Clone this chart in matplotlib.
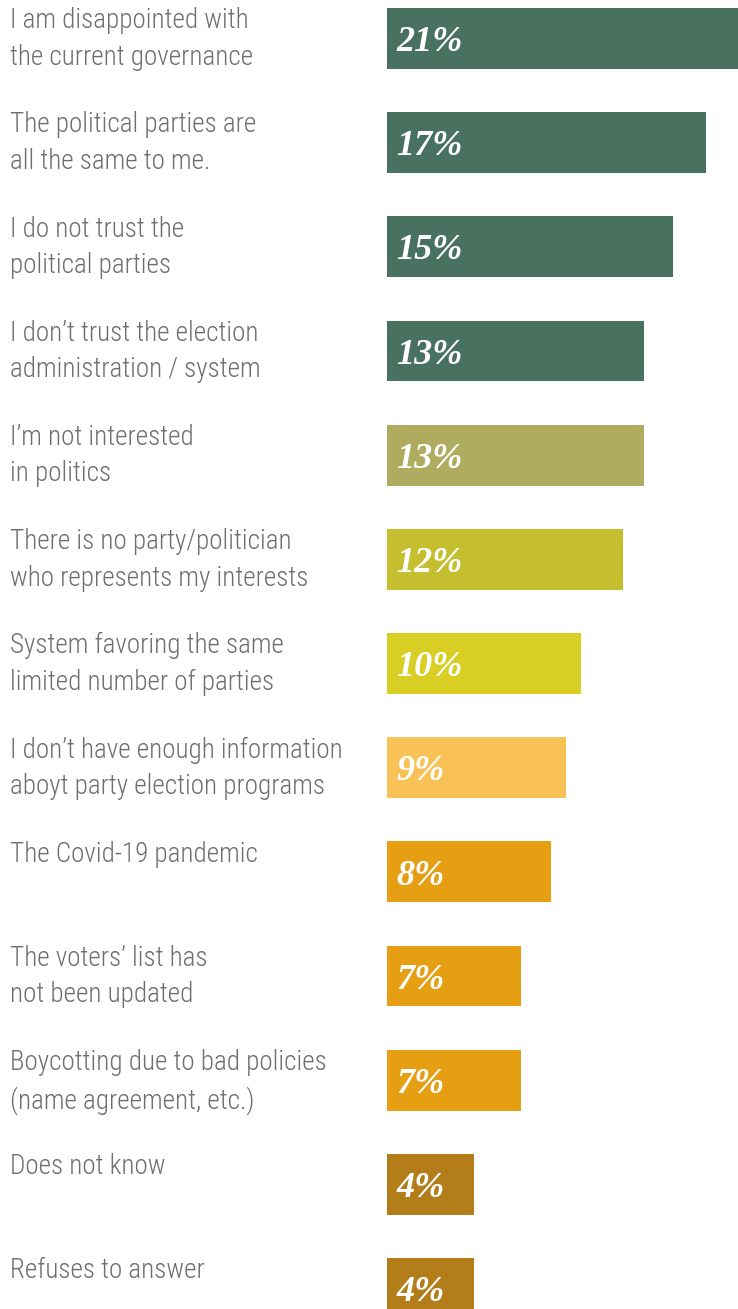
import matplotlib.pyplot as plt
from matplotlib import transforms

# reasons for not voting, top to bottom
reasons = [
    "I am disappointed with\nthe current governance",
    "The political parties are\nall the same to me.",
    "I do not trust the\npolitical parties",
    "I don\u2019t trust the election\nadministration / system",
    "I\u2019m not interested\nin politics",
    "There is no party/politician\nwho represents my interests",
    "System favoring the same\nlimited number of parties",
    "I don\u2019t have enough information\naboyt party election programs",
    "The Covid-19 pandemic",
    "The voters\u2019 list has\nnot been updated",
    "Boycotting due to bad policies\n(name agreement, etc.)",
    "Does not know",
    "Refuses to answer",
]
pct_labels = ["21%", "17%", "15%", "13%", "13%", "12%", "10%",
              "9%", "8%", "7%", "7%", "4%", "4%"]
# bar lengths as drawn in the picture
bar_length = [21.0, 19.1, 17.1, 15.4, 15.4, 14.1, 11.6,
              10.7, 9.8, 8.0, 8.0, 5.2, 5.2]
colors = ["#487160", "#487160", "#487160", "#487160", "#afac5f",
          "#c5bf2f", "#d8ce24", "#f9c256", "#e69f12", "#e69f12",
          "#e69f12", "#b37d1a", "#b37d1a"]

W, H = 738, 1309
fig = plt.figure(figsize=(W / 100, H / 100), dpi=100)
fig.patch.set_facecolor('white')

step = 104.17
ax = fig.add_axes([387 / W, 0, 1 - 387 / W, 1])
pos = list(range(len(reasons)))
ax.barh(pos, bar_length, height=0.585, color=colors)
ax.set_xlim(0, 21.0)
ax.set_ylim(12 + (H - 1288.5) / step, -38.5 / step)
ax.axis('off')

label_fonts = ['Roboto Condensed', 'DejaVu Sans Condensed', 'DejaVu Sans']
trans = transforms.blended_transform_factory(fig.transFigure, ax.transData)
for i, (txt, lab) in enumerate(zip(reasons, pct_labels)):
    ax.text(10 / W, i - 0.30, txt, transform=trans, ha='left', va='top',
            fontsize=19.5, color='#6d6e71', linespacing=1.45,
            family=label_fonts, fontweight='light', fontstretch='condensed')
    ax.text(0.55, i + 0.04, lab, ha='left', va='center', fontsize=26,
            color='white', fontweight='bold', fontstyle='italic',
            family=['Liberation Serif', 'DejaVu Serif'])

fig.savefig('out.png', dpi=100)
